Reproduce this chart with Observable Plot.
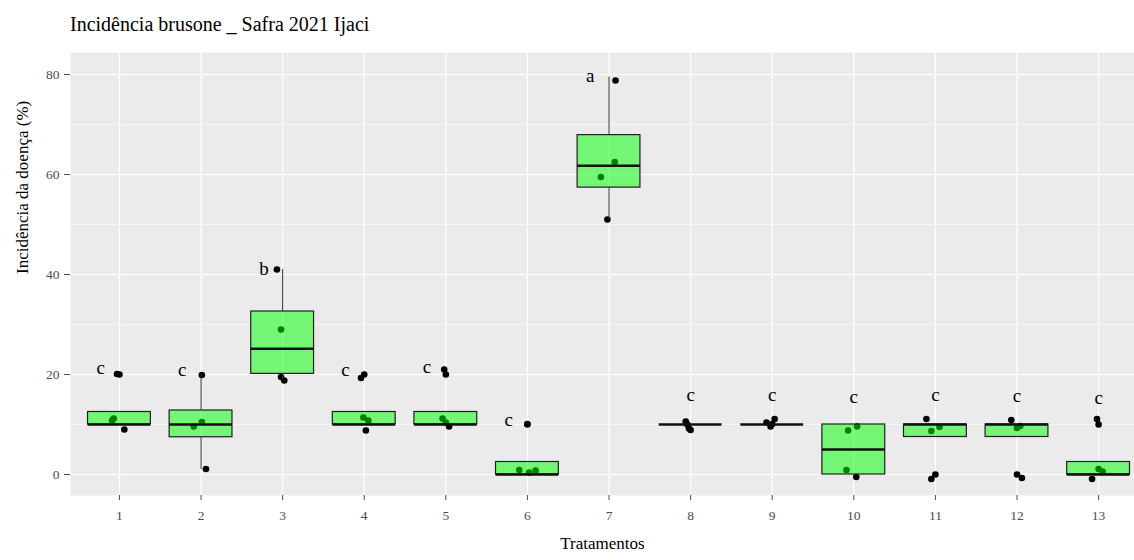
<!DOCTYPE html>
<html><head><meta charset="utf-8">
<script src="https://cdn.jsdelivr.net/npm/d3@7"></script>
<script src="https://cdn.jsdelivr.net/npm/@observablehq/plot@0.6"></script>
<style>
body{margin:0;background:#fff;font-family:'Liberation Serif',serif;overflow:hidden;}
#title{height:45px;box-sizing:border-box;padding:13px 0 0 70px;font-size:20px;line-height:22px;color:#000;}
</style></head><body>
<div id="title">Incidência brusone _ Safra 2021 Ijaci</div>
<div id="chart"></div>
<script>
// Treatments (x categories)
const treatments = [1,2,3,4,5,6,7,8,9,10,11,12,13];
// Four replicates per treatment
const obsTreatment = treatments.flatMap(t => [t, t, t, t]);
// Observed incidence values (%) per replicate, used for the box statistics
const obsValue = [
  10, 10, 10, 20,
  1, 9.6, 10.4, 20,
  19, 20.5, 29.8, 41,
  10, 10, 10, 20,
  10, 10, 10, 20,
  0, 0, 0, 10,
  51, 59.5, 64, 79.5,
  10, 10, 10, 10,
  10, 10, 10, 10,
  0, 0, 10, 10,
  0, 10, 10, 10,
  0, 10, 10, 10,
  0, 0, 0, 10
];
// Jittered point positions as seen in the picture: horizontal offset (treatment units) and shown value
const jitterOffset = [
  0.06, -0.09, -0.07, -0.03,
  0.06, -0.09, 0.01, 0.01,
  0.02, -0.02, -0.02, -0.07,
  0.02, 0.05, -0.01, -0.04,
  0.04, -0.04, 0.00, -0.02,
  -0.10, 0.10, 0.02, 0.00,
  -0.02, -0.10, 0.07, 0.08,
  -0.06, -0.02, 0.00, -0.04,
  -0.07, 0.03, -0.02, 0.00,
  -0.09, 0.03, -0.07, 0.04,
  -0.05, -0.11, -0.05, 0.05,
  0.06, -0.07, 0.04, 0.00,
  -0.08, 0.00, 0.05, -0.02
];
const jitterValue = [
  9.0, 10.8, 11.2, 20.1,
  1.1, 9.6, 10.5, 19.9,
  18.8, 19.5, 29.0, 41.0,
  8.8, 10.8, 11.4, 19.3,
  9.6, 11.2, 10.4, 21.0,
  0.9, 0.8, 0.4, 10.1,
  51.0, 59.5, 62.5, 78.8,
  10.6, 9.2, 8.9, 10.0,
  10.4, 11.1, 9.6, 10.1,
  0.9, -0.5, 8.8, 9.6,
  -0.9, 11.1, 8.7, 9.5,
  -0.7, 10.9, 9.7, 9.3,
  -0.9, 1.1, 0.6, 11.1
];
// Significance letters and their heights
const letters = ["c","c","b","c","c","c","a","c","c","c","c","c","c"];
const letterValue = [21.4, 21.0, 41.2, 21.0, 21.6, 11.0, 79.8, 16.0, 16.0, 15.6, 16.0, 15.7, 15.4];

const obs = obsValue.map((v, i) => ({t: obsTreatment[i], v, jx: jitterOffset[i], jv: jitterValue[i]}));
const stats = treatments.map(t => {
  const vs = obs.filter(o => o.t === t).map(o => o.v).sort(d3.ascending);
  const q1 = d3.quantile(vs, 0.25), med = d3.quantile(vs, 0.5), q3 = d3.quantile(vs, 0.75);
  const iqr = q3 - q1, lo = q1 - 1.5 * iqr, hi = q3 + 1.5 * iqr;
  const inside = vs.filter(v => v >= lo && v <= hi);
  return {t, q1, med, q3, wlo: d3.min(inside), whi: d3.max(inside), out: vs.filter(v => v < lo || v > hi)};
});
const outliers = stats.flatMap(s => s.out.map(v => ({t: s.t, v})));
const half = 0.385;
const font = "'Liberation Serif', 'Times New Roman', serif";

const chart = Plot.plot({
  width: 1134, height: 515,
  marginLeft: 70, marginRight: 0, marginTop: 7, marginBottom: 65,
  style: {fontFamily: font, background: "white"},
  x: {domain: [0.4, 13.44]},
  y: {domain: [-4.2, 84.4]},
  marks: [
    Plot.frame({fill: "#EBEBEB", stroke: null}),
    Plot.gridY([10, 30, 50, 70], {stroke: "white", strokeOpacity: 1, strokeWidth: 0.6}),
    Plot.gridY([0, 20, 40, 60, 80], {stroke: "white", strokeOpacity: 1, strokeWidth: 1.2}),
    Plot.gridX(treatments, {stroke: "white", strokeOpacity: 1, strokeWidth: 1.2}),
    Plot.dot(obs, {x: d => d.t + d.jx, y: "jv", r: 3.3, fill: "black"}),
    Plot.ruleX(stats.filter(s => s.whi > s.q3), {x: "t", y1: "q3", y2: "whi", stroke: "#333", strokeWidth: 1}),
    Plot.ruleX(stats.filter(s => s.wlo < s.q1), {x: "t", y1: "wlo", y2: "q1", stroke: "#333", strokeWidth: 1}),
    Plot.rect(stats, {x1: d => d.t - half, x2: d => d.t + half, y1: "q1", y2: "q3", fill: "#00FF00", fillOpacity: 0.5, stroke: "#1f1f1f", strokeWidth: 1.2}),
    Plot.ruleY(stats, {y: "med", x1: d => d.t - half, x2: d => d.t + half, stroke: "#111", strokeWidth: 2.4}),
    Plot.dot(outliers, {x: "t", y: "v", r: 3.3, fill: "black"}),
    Plot.text(treatments, {x: t => t - (t <= 7 ? 0.23 : 0), y: (t, i) => letterValue[i], text: (t, i) => letters[i], fontSize: 19, fill: "black"}),
    Plot.axisY({ticks: [0, 20, 40, 60, 80], tickSize: 6, tickPadding: 5, fontSize: 13.5, color: "#4d4d4d", label: null}),
    Plot.axisX({ticks: treatments, tickSize: 5, tickPadding: 10, fontSize: 13.5, color: "#4d4d4d", label: null, tickFormat: d3.format("d")}),
    Plot.text(["Incidência da doença (%)"], {frameAnchor: "left", dx: -48, rotate: -90, fontSize: 17, fill: "black", text: d => d}),
    Plot.text(["Tratamentos"], {frameAnchor: "bottom", dy: 53, fontSize: 17, fill: "black", text: d => d})
  ]
});
document.getElementById("chart").appendChild(chart);
</script></body></html>
